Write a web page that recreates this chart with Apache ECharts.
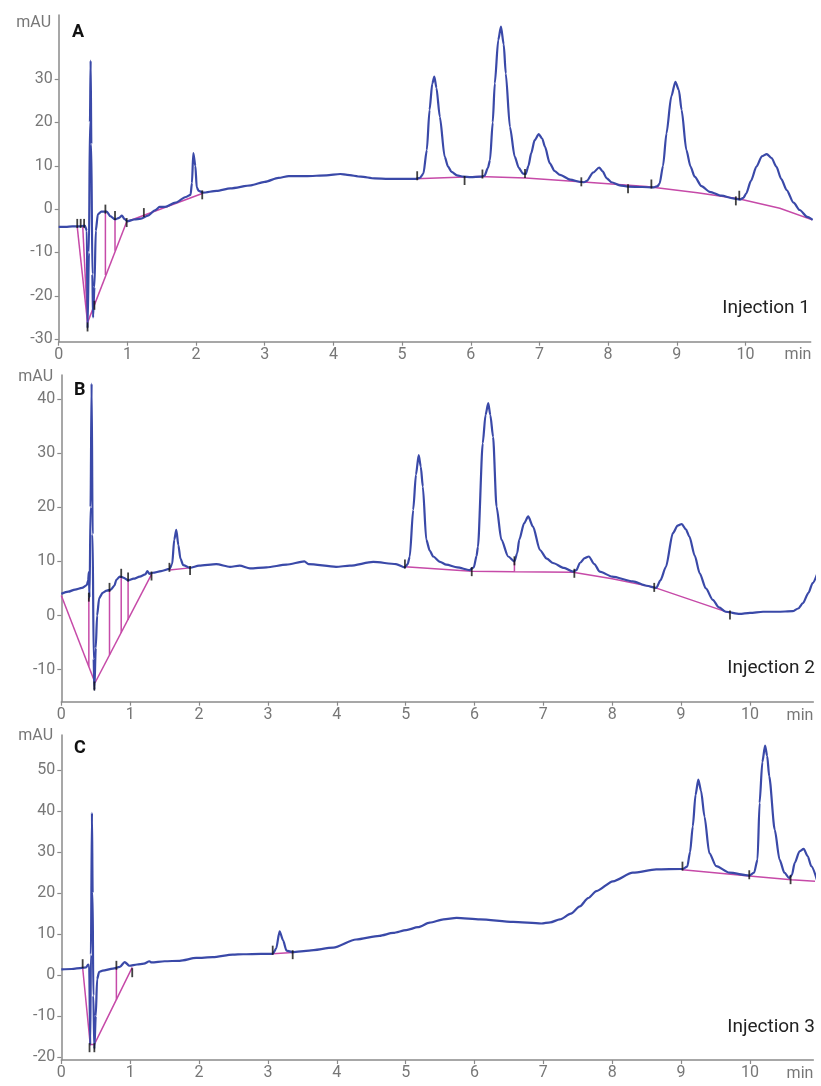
<!DOCTYPE html>
<html>
<head>
<meta charset="utf-8">
<script src="https://cdn.jsdelivr.net/npm/echarts@6.0.0/dist/echarts.min.js"></script>
<style>
  html, body { margin: 0; padding: 0; background: #ffffff; }
  #chart { width: 821px; height: 1086px; }
</style>
</head>
<body>
<div id="chart"></div>
<script>
// axis ticks
var timeTicks = [0, 1, 2, 3, 4, 5, 6, 7, 8, 9, 10]
var yTicksA = [-30, -20, -10, 0, 10, 20, 30]
var yTicksB = [-10, 0, 10, 20, 30, 40]
var yTicksC = [-20, -10, 0, 10, 20, 30, 40, 50]

// injection 1 : signal [min, mAU]
var traceA = [[0, -4.1], [0.1, -4.1], [0.2, -4.0], [0.3, -4.0], [0.38, -3.8], [0.41, -5], [0.42, -27.5], [0.44, -10], [0.455, 20], [0.465, 34.3], [0.475, 15], [0.49, -15], [0.5, -25], [0.52, -18], [0.54, -5], [0.57, -1.2], [0.62, -0.6], [0.7, -0.6], [0.75, -1.6], [0.82, -2.4], [0.88, -2.0], [0.92, -1.5], [0.96, -2.3], [1.0, -2.8], [1.1, -2.4], [1.2, -2.2], [1.3, -1.5], [1.4, -0.3], [1.47, 0.5], [1.55, 0.5], [1.7, 1.5], [1.85, 2.8], [1.92, 3.3], [1.94, 6], [1.96, 12.9], [1.99, 10], [2.01, 5], [2.04, 4.2], [2.1, 3.8], [2.3, 4.2], [2.5, 4.8], [2.8, 5.5], [3.0, 6.3], [3.2, 7.2], [3.35, 7.6], [3.6, 7.6], [3.9, 7.8], [4.1, 8.1], [4.2, 7.9], [4.4, 7.5], [4.6, 7.1], [4.8, 7.0], [5.0, 7.0], [5.2, 7.0], [5.26, 7.2], [5.31, 8.2], [5.36, 13.6], [5.4, 22.9], [5.44, 29], [5.47, 30.6], [5.5, 28], [5.55, 21.3], [5.62, 12.1], [5.67, 9.8], [5.72, 8.6], [5.8, 7.8], [5.89, 7.5], [6.0, 7.4], [6.15, 7.5], [6.2, 7.7], [6.25, 9.5], [6.28, 11.3], [6.32, 20], [6.35, 29], [6.4, 39], [6.44, 42.1], [6.48, 38], [6.51, 31.3], [6.57, 19], [6.64, 12.1], [6.7, 9.5], [6.76, 8.2], [6.8, 8.1], [6.84, 10], [6.88, 12.9], [6.93, 15.9], [6.99, 17.3], [7.04, 16.3], [7.08, 14.4], [7.15, 10.6], [7.22, 8.8], [7.3, 7.9], [7.45, 6.8], [7.59, 6.3], [7.65, 6.2], [7.69, 6.5], [7.78, 8.4], [7.87, 9.6], [7.92, 8.7], [7.98, 7.1], [8.05, 6.2], [8.17, 5.5], [8.29, 5.2], [8.5, 5.1], [8.66, 5.0], [8.72, 5.3], [8.75, 5.9], [8.8, 10], [8.85, 17.5], [8.92, 26], [8.98, 29.4], [9.03, 27.5], [9.07, 22.9], [9.14, 13.6], [9.2, 9.8], [9.26, 7.5], [9.36, 5.3], [9.48, 4.0], [9.65, 3.1], [9.82, 2.5], [9.92, 2.2], [9.97, 2.6], [10.01, 3.6], [10.08, 6.5], [10.16, 9.8], [10.24, 12.2], [10.31, 12.7], [10.38, 11.8], [10.45, 9.8], [10.52, 7.0], [10.6, 4.4], [10.7, 1.5], [10.79, -0.2], [10.9, -1.8], [10.98, -2.5]]
var baselineA = [
  [[0.27, -4.1], [0.42, -26.2]],
  [[0.35, -4.0], [0.42, -26.2]],
  [[0.42, -26.2], [0.99, -2.9]],
  [[0.68, -0.5], [0.68, -15.2]],
  [[0.82, -2.3], [0.82, -9.6]],
  [[0.99, -2.9], [2.09, 3.6]],
  [[5.2, 7.0], [6.12, 7.5], [6.8, 7.2], [7.59, 6.3], [8.56, 5.2], [9.3, 3.8], [9.9, 2.4], [10.5, 0.2], [10.98, -2.5]]
]
var marksA = [[0.27, -3.3], [0.32, -3.3], [0.37, -3.3], [0.42, -27.2], [0.52, -22.2], [0.68, 0.0], [0.82, -1.5], [0.99, -3.1], [1.24, -0.8], [2.09, 3.3], [5.22, 7.7], [5.91, 6.6], [6.17, 8.1], [6.79, 8.2], [7.61, 6.3], [8.29, 4.7], [8.63, 5.8], [9.86, 1.9], [9.91, 3.2]]

// injection 2
var traceB = [[0, 4.0], [0.1, 4.4], [0.2, 4.8], [0.3, 5.1], [0.37, 5.6], [0.39, 6.5], [0.4, 8.0], [0.41, 3.3], [0.425, 20], [0.44, 42.8], [0.455, 15], [0.47, -8], [0.48, -13.7], [0.5, -6], [0.52, 0], [0.55, 3.2], [0.6, 4.2], [0.66, 4.6], [0.72, 4.8], [0.77, 5.5], [0.8, 6.6], [0.85, 7.2], [0.9, 7.0], [0.97, 6.5], [1.05, 6.8], [1.14, 7.2], [1.22, 7.6], [1.25, 8.2], [1.28, 7.7], [1.33, 7.9], [1.45, 8.2], [1.57, 8.6], [1.61, 9.5], [1.64, 14], [1.67, 15.8], [1.7, 13], [1.73, 10.5], [1.77, 9.3], [1.87, 8.8], [2.0, 9.2], [2.25, 9.5], [2.45, 9.0], [2.59, 9.2], [2.74, 8.7], [2.98, 8.9], [3.27, 9.4], [3.53, 10.0], [3.59, 9.5], [3.99, 9.0], [4.19, 9.2], [4.53, 9.9], [4.86, 9.5], [4.99, 8.9], [5.03, 9.5], [5.06, 10.9], [5.11, 19.5], [5.15, 26], [5.19, 29.6], [5.22, 27.5], [5.25, 23.8], [5.3, 14.0], [5.35, 12], [5.4, 10.9], [5.5, 9.9], [5.59, 9.4], [5.75, 8.9], [5.93, 8.4], [5.99, 8.9], [6.03, 11], [6.05, 12.7], [6.12, 31.8], [6.16, 37], [6.2, 39.2], [6.23, 37], [6.27, 33.0], [6.32, 20.1], [6.39, 14.0], [6.49, 10.9], [6.58, 10.0], [6.62, 11.5], [6.65, 14.0], [6.72, 17], [6.78, 18.3], [6.85, 16.4], [6.95, 12.1], [7.05, 10.5], [7.14, 9.7], [7.3, 8.8], [7.43, 8.1], [7.48, 8.4], [7.53, 9.7], [7.6, 10.6], [7.66, 10.9], [7.74, 9.5], [7.82, 8.1], [8.0, 7.2], [8.3, 6.3], [8.5, 5.5], [8.64, 5.1], [8.7, 6.5], [8.78, 9.0], [8.88, 15.2], [8.95, 16.6], [9.01, 16.9], [9.07, 15.9], [9.12, 14.6], [9.2, 11], [9.27, 7.8], [9.36, 5.0], [9.46, 2.9], [9.55, 1.5], [9.65, 0.7], [9.85, 0.3], [10.0, 0.5], [10.19, 0.7], [10.4, 0.7], [10.62, 0.8], [10.7, 1.3], [10.77, 2.3], [10.85, 4.2], [10.91, 6.0], [10.98, 7.8]]
var baselineB = [
  [[0, 3.7], [0.49, -12.4]],
  [[0.4, 3.3], [0.4, -9.4]],
  [[0.49, -12.4], [1.31, 7.6]],
  [[0.7, 4.7], [0.7, -7.3]],
  [[0.87, 7.2], [0.87, -3.2]],
  [[0.97, 6.6], [0.97, -0.8]],
  [[1.57, 8.4], [1.87, 8.8]],
  [[4.99, 9.0], [5.96, 8.2], [6.58, 8.1], [7.43, 8.0], [8.0, 6.8], [8.61, 5.2], [9.7, 0.5]],
  [[6.58, 10.0], [6.58, 8.1]]
]
var marksB = [[0.4, 3.4], [0.48, -13.0], [0.7, 5.2], [0.87, 7.8], [0.97, 7.1], [1.31, 7.3], [1.57, 8.9], [1.87, 8.3], [4.99, 9.5], [5.96, 8.1], [6.58, 10.1], [7.45, 7.8], [8.61, 5.2], [9.71, 0.1]]

// injection 3
var traceC = [[0, 1.4], [0.15, 1.5], [0.3, 1.8], [0.36, 1.9], [0.39, 2.6], [0.405, 2.4], [0.42, -17], [0.43, 5], [0.445, 39.6], [0.455, 20], [0.465, -5], [0.48, -18], [0.5, -10], [0.52, -1], [0.55, 0.8], [0.6, 1.1], [0.75, 1.6], [0.85, 2.0], [0.92, 3.2], [0.99, 2.3], [1.1, 2.6], [1.2, 2.8], [1.28, 3.4], [1.31, 3.1], [1.5, 3.4], [1.72, 3.5], [1.96, 4.2], [2.2, 4.4], [2.49, 5.0], [2.64, 5.1], [2.9, 5.2], [3.07, 5.2], [3.12, 6.5], [3.17, 10.7], [3.22, 8.5], [3.27, 6.0], [3.36, 5.6], [3.6, 6.0], [3.95, 6.7], [4.28, 8.7], [4.62, 9.6], [4.82, 10.3], [5.01, 11.0], [5.18, 11.7], [5.35, 12.8], [5.55, 13.6], [5.74, 14.0], [6.08, 13.6], [6.56, 13.0], [6.97, 12.6], [7.1, 12.9], [7.24, 13.6], [7.4, 15.0], [7.53, 16.8], [7.65, 18.8], [7.77, 20.5], [8.01, 22.9], [8.3, 25.0], [8.64, 25.8], [9.02, 25.9], [9.09, 26.5], [9.13, 30], [9.17, 36.3], [9.21, 44], [9.25, 47.7], [9.29, 45], [9.34, 38.7], [9.41, 29.8], [9.51, 26.6], [9.7, 25.0], [9.99, 24.3], [10.06, 25], [10.11, 28.2], [10.14, 42.0], [10.18, 52], [10.22, 56.0], [10.25, 53.5], [10.28, 48.5], [10.36, 35.5], [10.43, 28.2], [10.5, 25], [10.57, 23.7], [10.61, 24.5], [10.65, 27.4], [10.72, 30.2], [10.78, 30.8], [10.84, 29], [10.89, 26.6], [10.98, 22.9]]
var baselineC = [
  [[0.31, 1.8], [0.42, -16.9], [0.48, -16.9], [1.03, 1.9]],
  [[0.8, 1.9], [0.8, -6.0]],
  [[3.07, 5.2], [3.36, 5.5]],
  [[9.02, 25.7], [9.99, 24.2], [10.6, 23.3], [10.98, 22.9]]
]
var marksC = [[0.31, 2.8], [0.41, -17.7], [0.48, -17.7], [0.8, 2.4], [1.03, 0.6], [3.07, 6.1], [3.36, 5.0], [9.02, 26.6], [9.99, 24.5], [10.59, 23.3]]

var BLUE = '#3a49a8'
var PINK = '#c64aa8'
var AXIS = '#8a8a8a'
var LABEL = '#777777'
var FONT = 'Roboto, "Noto Sans", sans-serif'

// layout of the three stacked runs
var panels = [
  { grid: { left: 58.7, top: 15, width: 752, height: 326.7 }, xMax: 10.95, yMin: -30.6, yMax: 44.8, yTicks: yTicksA, trace: traceA, base: baselineA, marks: marksA, letter: 'A', name: 'Injection 1', unitPos: [51, 23], letterPos: [72, 32], namePos: [810, 308], minPos: [798, 355] },
  { grid: { left: 61.3, top: 375, width: 752, height: 326.7 }, xMax: 10.92, yMin: -15.9, yMax: 44.4, yTicks: yTicksB, trace: traceB, base: baselineB, marks: marksB, letter: 'B', name: 'Injection 2', unitPos: [53, 377], letterPos: [74, 390], namePos: [815, 668], minPos: [800, 716] },
  { grid: { left: 61.3, top: 735, width: 752, height: 325 }, xMax: 10.92, yMin: -20.7, yMax: 58.6, yTicks: yTicksC, trace: traceC, base: baselineC, marks: marksC, letter: 'C', name: 'Injection 3', unitPos: [53, 736], letterPos: [74, 748], namePos: [815, 1027], minPos: [800, 1074] }
]

function axisStyle() {
  return {
    axisLine: { show: true, onZero: false, lineStyle: { color: AXIS, width: 1.5 } },
    axisTick: { show: true, length: 4, lineStyle: { color: AXIS, width: 1.2 } },
    splitLine: { show: false }
  }
}

function text(str, pos, align, font, color) {
  return {
    type: 'text',
    x: pos[0],
    y: pos[1],
    style: { text: str, textAlign: align, textVerticalAlign: 'middle', font: font, fill: color }
  }
}

var grids = [], xAxes = [], yAxes = [], series = [], graphics = []
panels.forEach(function (p, i) {
  grids.push(p.grid)
  var xa = axisStyle()
  xa.type = 'value'
  xa.gridIndex = i
  xa.min = 0
  xa.max = p.xMax
  xa.axisTick.customValues = timeTicks
  xa.axisLabel = { customValues: timeTicks, color: LABEL, fontSize: 16, fontFamily: FONT, margin: 5 }
  xAxes.push(xa)

  var ya = axisStyle()
  ya.type = 'value'
  ya.gridIndex = i
  ya.min = p.yMin
  ya.max = p.yMax
  ya.axisTick.customValues = p.yTicks
  ya.axisLabel = { customValues: p.yTicks, color: LABEL, fontSize: 16, fontFamily: FONT, margin: 6 }
  yAxes.push(ya)

  //积分基线
  p.base.forEach(function (seg) {
    series.push({
      type: 'line', xAxisIndex: i, yAxisIndex: i, data: seg,
      symbol: 'none', lineStyle: { color: PINK, width: 1.5 }, z: 2, silent: true
    })
  })
  series.push({
    type: 'line', xAxisIndex: i, yAxisIndex: i, data: p.trace, clip: false,
    smooth: 0.25, smoothMonotone: 'x',
    symbol: 'none', lineStyle: { color: BLUE, width: 2.2 }, z: 3, silent: true
  })
  // peak start / end markers
  series.push({
    type: 'scatter', xAxisIndex: i, yAxisIndex: i, data: p.marks,
    symbol: 'rect', symbolSize: [1.8, 9], itemStyle: { color: '#111111' }, z: 4, silent: true
  })

  graphics.push(text('mAU', p.unitPos, 'right', '16px ' + FONT, LABEL))
  graphics.push(text(p.letter, p.letterPos, 'left', 'bold 18px ' + FONT, '#111111'))
  graphics.push(text(p.name, p.namePos, 'right', '19px ' + FONT, '#222222'))
  graphics.push(text('min', p.minPos, 'center', '16px ' + FONT, LABEL))
})

var chart = echarts.init(document.getElementById('chart'))
chart.setOption({
  animation: false,
  backgroundColor: '#ffffff',
  grid: grids,
  xAxis: xAxes,
  yAxis: yAxes,
  series: series,
  graphic: graphics
})
</script>
</body>
</html>
